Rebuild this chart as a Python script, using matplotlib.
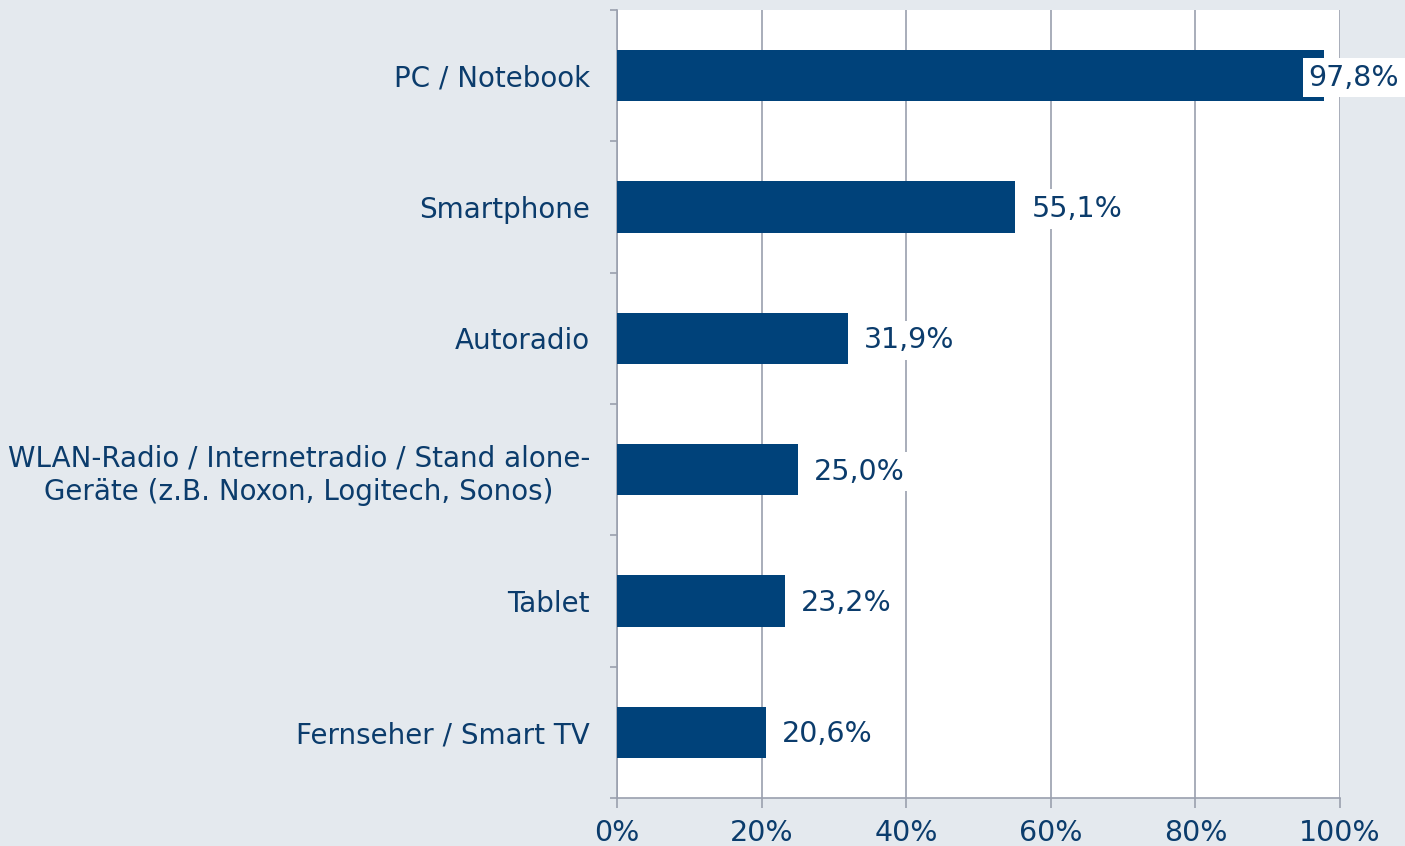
import matplotlib
matplotlib.use("Agg")
import matplotlib.pyplot as plt
from matplotlib.ticker import FixedLocator, PercentFormatter

categories = [
    "PC / Notebook",
    "Smartphone",
    "Autoradio",
    "WLAN-Radio / Internetradio / Stand alone-\nGeräte (z.B. Noxon, Logitech, Sonos)",
    "Tablet",
    "Fernseher / Smart TV",
]
values = [97.8, 55.1, 31.9, 25.0, 23.2, 20.6]
xticks = [0, 20, 40, 60, 80, 100]

BG = "#e4e9ee"
BAR = "#00427a"
TXT = "#0b3c6c"
GRID = "#9aa0ae"
FS_CAT = 20
FS_NUM = 20.5

plt.rcParams["font.family"] = ["DejaVu Sans"]

fig = plt.figure(figsize=(14.05, 8.46), dpi=100, facecolor=BG)
ax = fig.add_axes([617 / 1405, 1 - 798 / 846, (1340 - 617) / 1405, (798 - 10) / 846])
ax.set_facecolor("white")

y = list(range(len(categories)))
ax.barh(y, values, height=0.39, color=BAR, zorder=3)
ax.set_ylim(len(categories) - 0.5, -0.5)
ax.set_xlim(0, 100)

ax.set_yticks(y)
ax.set_yticklabels(categories, fontsize=FS_CAT, color=TXT, multialignment="center", linespacing=1.25)
ax.tick_params(axis="y", which="major", length=0, pad=19.5)
ax.yaxis.set_minor_locator(FixedLocator([i - 0.5 for i in range(len(categories) + 1)]))
ax.tick_params(axis="y", which="minor", length=5, color=GRID, width=1.2)

ax.set_xticks(xticks)
ax.xaxis.set_major_formatter(PercentFormatter(decimals=0))
ax.tick_params(axis="x", length=7, color=GRID, width=1.2, labelsize=FS_NUM, labelcolor=TXT, pad=8)
ax.grid(axis="x", color=GRID, linewidth=1.2, zorder=0)

for s in ["top", "right"]:
    ax.spines[s].set_visible(False)
for s in ["left", "bottom"]:
    ax.spines[s].set_color(GRID)
    ax.spines[s].set_linewidth(1.2)

fig.canvas.draw()
renderer = fig.canvas.get_renderer()
fig_right = fig.bbox.x1
box = dict(boxstyle="square,pad=0.2", fc="white", ec="none")
for yi, v in zip(y, values):
    label = f"{v:.1f}%".replace(".", ",")
    t = ax.annotate(label, xy=(v, yi), xytext=(16, -2), textcoords="offset pixels",
                    ha="left", va="center", fontsize=FS_NUM, color=TXT, zorder=4, bbox=box)
    bb = t.get_window_extent(renderer)
    if bb.x1 > fig_right - 2:
        t.remove()
        ax.annotate(label, xy=(1, yi), xycoords=("figure fraction", "data"),
                    xytext=(-6, -2), textcoords="offset pixels",
                    ha="right", va="center", fontsize=FS_NUM, color=TXT, zorder=4,
                    bbox=box, annotation_clip=False)

fig.savefig("out.png", dpi=100, facecolor=BG)
